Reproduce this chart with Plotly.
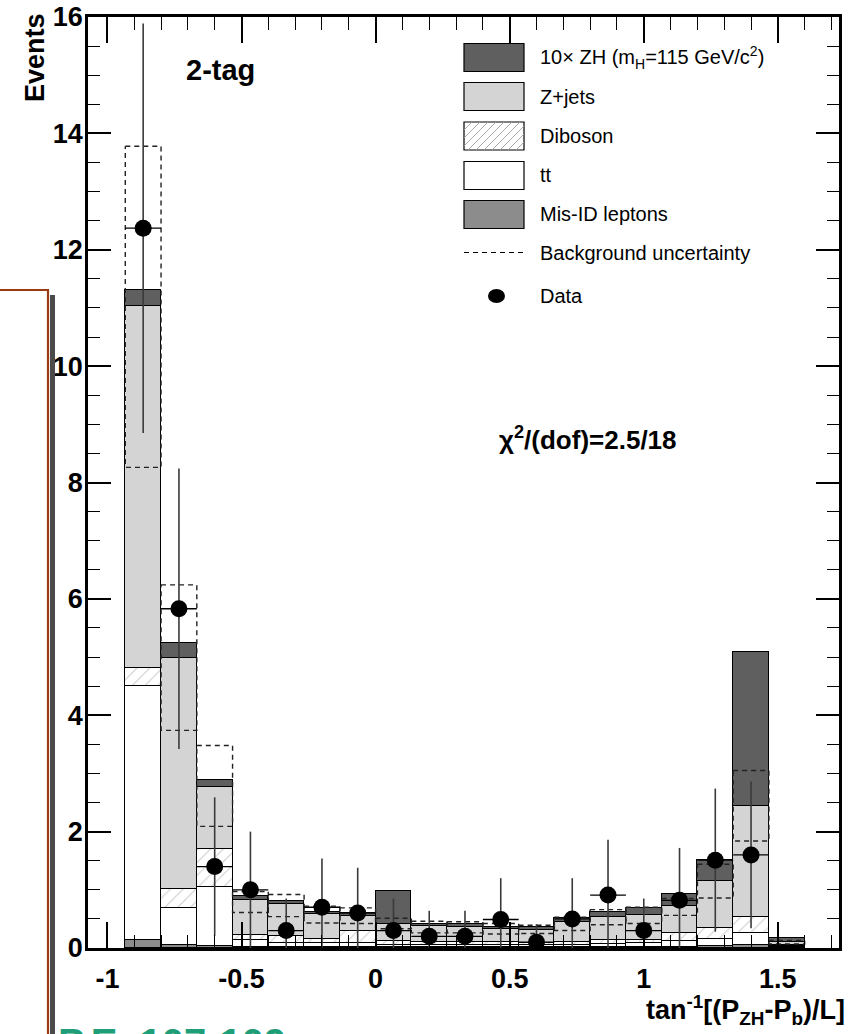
import plotly.graph_objects as go

# ---------------- data ----------------
BIN_W = 2 / 15
bin_centers = [-0.8667, -0.7333, -0.6, -0.4667, -0.3333, -0.2, -0.0667, 0.0667, 0.2, 0.3333,
               0.4667, 0.6, 0.7333, 0.8667, 1.0, 1.1333, 1.2667, 1.4, 1.5333]

misid   = [0.13, 0.06, 0.03, 0.02, 0.02, 0.02, 0.02, 0.02, 0.02, 0.02, 0.02, 0.02, 0.02, 0.02, 0.02, 0.02, 0.03, 0.05, 0.01]
ttbar   = [4.38, 0.63, 1.01, 0.11, 0.07, 0.06, 0.06, 0.04, 0.04, 0.04, 0.03, 0.03, 0.04, 0.05, 0.06, 0.10, 0.13, 0.21, 0.02]
diboson = [0.31, 0.33, 0.67, 0.09, 0.11, 0.08, 0.21, 0.06, 0.04, 0.04, 0.05, 0.03, 0.04, 0.06, 0.06, 0.13, 0.19, 0.28, 0.02]
zjets   = [6.21, 3.97, 1.06, 0.60, 0.55, 0.42, 0.26, 0.30, 0.27, 0.26, 0.22, 0.23, 0.34, 0.40, 0.42, 0.48, 0.80, 1.90, 0.05]
zh10    = [0.28, 0.26, 0.12, 0.07, 0.06, 0.04, 0.05, 0.56, 0.05, 0.05, 0.04, 0.05, 0.07, 0.09, 0.13, 0.19, 0.37, 2.65, 0.08]

unc_hi = [13.78, 6.24, 3.48, 0.97, 0.92, 0.72, 0.69, 0.51, 0.46, 0.45, 0.42, 0.39, 0.53, 0.66, 0.70, 0.85, 1.44, 3.05, 0.13]
unc_lo = [8.26, 3.74, 2.09, 0.61, 0.54, 0.43, 0.42, 0.33, 0.26, 0.26, 0.24, 0.25, 0.30, 0.40, 0.42, 0.56, 0.86, 1.84, 0.07]

data     = [12.37, 5.83, 1.40, 1.00, 0.30, 0.70, 0.60, 0.30, 0.20, 0.20, 0.49, 0.10, 0.50, 0.91, 0.30, 0.82, 1.51, 1.60, None]
data_err = [3.52, 2.41, 1.19, 1.00, 0.55, 0.84, 0.78, 0.55, 0.44, 0.44, 0.71, 0.31, 0.70, 0.95, 0.55, 0.90, 1.23, 1.26, None]

x_tickvals = [-1, -0.5, 0, 0.5, 1, 1.5]
x_ticktext = ["-1", "-0.5", "0", "0.5", "1", "1.5"]
y_tickvals = [0, 2, 4, 6, 8, 10, 12, 14, 16]
y_ticktext = ["0", "2", "4", "6", "8", "10", "12", "14", "16"]

legend_labels = ["10\u00d7 ZH (m<sub>H</sub>=115 GeV/c<sup>2</sup>)", "Z+jets", "Diboson", "tt",
                 "Mis-ID leptons", "Background uncertainty", "Data"]

# ---------------- layout geometry ----------------
W_FIG, H_FIG = 852, 1034
L, R, T, B = 88, 13, 17, 86
PW, PH = W_FIG - L - R, H_FIG - T - B


def px(xp):
    return (xp - L) / PW


def py(yp):
    return (H_FIG - B - yp) / PH


FONT = "Liberation Sans, Arial, Helvetica, sans-serif"
OUT = dict(color="black", width=1.5)

fig = go.Figure()

fig.add_trace(go.Bar(x=bin_centers, y=misid, width=BIN_W, marker=dict(color="#8c8c8c", line=OUT), showlegend=False))
fig.add_trace(go.Bar(x=bin_centers, y=ttbar, width=BIN_W, marker=dict(color="white", line=OUT), showlegend=False))
fig.add_trace(go.Bar(x=bin_centers, y=diboson, width=BIN_W,
                     marker=dict(color="white", line=OUT,
                                 pattern=dict(shape="/", fgcolor="#9a9a9a", bgcolor="white", size=9, solidity=0.12)),
                     showlegend=False))
fig.add_trace(go.Bar(x=bin_centers, y=zjets, width=BIN_W, marker=dict(color="#d4d4d4", line=OUT), showlegend=False))
fig.add_trace(go.Bar(x=bin_centers, y=zh10, width=BIN_W, marker=dict(color="#5f5f5f", line=OUT), showlegend=False))

# background uncertainty: dashed box per bin
ux, uy = [], []
for c, hi, lo in zip(bin_centers, unc_hi, unc_lo):
    a, b = c - BIN_W / 2, c + BIN_W / 2
    ux += [a, b, b, a, a, None]
    uy += [hi, hi, lo, lo, hi, None]
fig.add_trace(go.Scatter(x=ux, y=uy, mode="lines", line=dict(color="#222", width=1.4, dash="5px,4px"),
                         showlegend=False, hoverinfo="skip"))

# data
fig.add_trace(go.Scatter(
    x=bin_centers, y=data, mode="markers",
    marker=dict(size=17, color="black"),
    error_y=dict(type="data", array=data_err, color="#3a3a3a", thickness=1.6, width=0),
    error_x=dict(type="constant", value=BIN_W / 2, color="black", thickness=1.3, width=0),
    showlegend=False))

tickfont = dict(family=FONT, size=27, color="black", weight="bold")
fig.update_layout(
    width=W_FIG, height=H_FIG,
    margin=dict(l=L, r=R, t=T, b=B, autoexpand=False),
    paper_bgcolor="white", plot_bgcolor="white",
    barmode="stack", bargap=0,
    showlegend=False,
    xaxis=dict(range=[-1.0724, 1.728], tickmode="array", tickvals=x_tickvals, ticktext=x_ticktext,
               ticks="inside", ticklen=26, tickwidth=1.6, tickcolor="black",
               minor=dict(tickmode="linear", tick0=0, dtick=0.1, ticks="inside", ticklen=13, tickwidth=1.4,
                          tickcolor="black"),
               showline=True, linecolor="black", linewidth=2.5, mirror="allticks", automargin=False,
               showgrid=False, zeroline=False, tickfont=tickfont, ticklabelstandoff=5),
    yaxis=dict(range=[0, 16], tickmode="array", tickvals=y_tickvals, ticktext=y_ticktext,
               ticks="inside", ticklen=23, tickwidth=1.6, tickcolor="black",
               minor=dict(tickmode="linear", tick0=0, dtick=0.5, ticks="inside", ticklen=12, tickwidth=1.4,
                          tickcolor="black"),
               showline=True, linecolor="black", linewidth=2.5, mirror="allticks", automargin=False,
               showgrid=False, zeroline=False, tickfont=tickfont, ticklabelstandoff=-3),
)

shapes = []
annotations = []

# legend (manual, large boxes)
box_x0, box_x1 = 464, 524
rows_y = [57.5, 96.5, 136, 175.5, 214.5, 252.5, 296]
box_fill = ["#5f5f5f", "#d4d4d4", "white", "white", "#8c8c8c"]
for i in range(5):
    yc = rows_y[i]
    shapes.append(dict(type="rect", xref="paper", yref="paper",
                       x0=px(box_x0), x1=px(box_x1), y0=py(yc + 14), y1=py(yc - 14),
                       fillcolor=box_fill[i], line=dict(color="black", width=1.2), layer="above"))
# hatch for diboson legend box
yc = rows_y[2]
yb, yt = yc + 14, yc - 14
hgt = yb - yt
for t0 in range(-28, 60, 8):
    xa, ya = box_x0 + t0, yb
    xb, yb2 = box_x0 + t0 + hgt, yt
    if xa < box_x0:
        ya = yb - (box_x0 - xa)
        xa = box_x0
    if xb > box_x1:
        yb2 = yt + (xb - box_x1)
        xb = box_x1
    if xb <= xa:
        continue
    shapes.append(dict(type="line", xref="paper", yref="paper", x0=px(xa), y0=py(ya), x1=px(xb), y1=py(yb2),
                       line=dict(color="#a0a0a0", width=0.9), layer="above"))
shapes.append(dict(type="line", xref="paper", yref="paper", x0=px(box_x0), x1=px(box_x1),
                   y0=py(rows_y[5]), y1=py(rows_y[5]), line=dict(color="black", width=1.2, dash="5px,4px")))
shapes.append(dict(type="circle", xref="paper", yref="paper", x0=px(488), x1=px(505),
                   y0=py(rows_y[6] + 7), y1=py(rows_y[6] - 7), fillcolor="black", line=dict(width=0)))
for lab, yc in zip(legend_labels, rows_y):
    annotations.append(dict(text=lab, xref="paper", yref="paper", x=px(538), y=py(yc), xanchor="left",
                            yanchor="middle", showarrow=False, font=dict(family=FONT, size=20, color="black")))

# texts
annotations.append(dict(text="2-tag", xref="paper", yref="paper", x=px(184), y=py(70), xanchor="left",
                        yanchor="middle", showarrow=False,
                        font=dict(family=FONT, size=29, color="black", weight="bold")))
annotations.append(dict(text="\u03c7<sup>2</sup>/(dof)=2.5/18", xref="paper", yref="paper", x=px(588), y=py(438),
                        xanchor="center", yanchor="middle", showarrow=False,
                        font=dict(family=FONT, size=26, color="black", weight="bold")))
annotations.append(dict(text="Events", xref="paper", yref="paper", x=px(35), y=py(58), textangle=-90,
                        xanchor="center", yanchor="middle", showarrow=False,
                        font=dict(family=FONT, size=27, color="black", weight="bold")))
annotations.append(dict(text="tan<sup>-1</sup>[(P<sub>ZH</sub>-P<sub>b</sub>)/L]", xref="paper", yref="paper",
                        x=px(847), y=py(1010), xanchor="right", yanchor="middle", showarrow=False,
                        font=dict(family=FONT, size=27, color="black", weight="bold")))

# slide remnants on the left
shapes.append(dict(type="rect", xref="paper", yref="paper", x0=px(50), x1=px(55), y0=py(1040), y1=py(295),
                   fillcolor="#4a4a4a", line=dict(width=0), layer="above"))
shapes.append(dict(type="rect", xref="paper", yref="paper", x0=px(-10), x1=px(48), y0=py(1040), y1=py(290),
                   fillcolor="white", line=dict(color="#9a3a12", width=2.2), layer="above"))
annotations.append(dict(text="P.E. 107-109", xref="paper", yref="paper", x=px(56), y=py(1019), xanchor="left",
                        yanchor="top", showarrow=False,
                        font=dict(family=FONT, size=40, color="#1f9e78", weight="bold")))

fig.update_layout(shapes=shapes, annotations=annotations)

fig.write_html("out.html")
